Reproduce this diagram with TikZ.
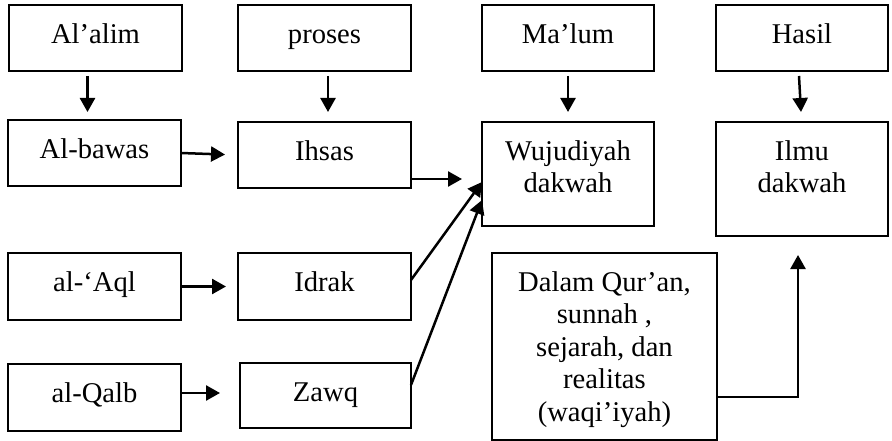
\documentclass[tikz,border=0pt]{standalone}
\usepackage{fontspec}
\setmainfont{Liberation Serif}
\usetikzlibrary{arrows.meta,calc}

% Text inside a box: top aligned, lines centred
\newcommand{\boxtxt}[3]{\parbox[c][#2][t]{#1}{\centering\vspace*{15.4pt}\strut #3}}

\begin{document}
\begin{tikzpicture}[x=1pt,y=-1pt,
  textbox/.style={draw=black, line width=1.8pt, fill=white, inner sep=0pt, outer sep=0pt,
    font=\fontsize{28.6}{32.5}\selectfont},
  arr/.style={draw=black, line width=2.5pt, -{Triangle[length=14pt,width=15pt]}}
]
\useasboundingbox (0,0) rectangle (892,441);

% top row: labels of the columns
\node[textbox] (alalim) at (95.5,38)  {\boxtxt{173pt}{66pt}{Al’alim}};
\node[textbox] (proses) at (324.5,38) {\boxtxt{173pt}{66pt}{proses}};
\node[textbox] (malum)  at (568,38)   {\boxtxt{172pt}{66pt}{Ma’lum}};
\node[textbox] (hasil)  at (802,38)   {\boxtxt{172pt}{66pt}{Hasil}};

% second row
\node[textbox] (albawas) at (94.5,153)  {\boxtxt{173pt}{66pt}{Al-bawas}};
\node[textbox] (ihsas)   at (324.5,155) {\boxtxt{173pt}{66pt}{Ihsas}};
\node[textbox] (wuj)     at (568,174)   {\boxtxt{172pt}{104pt}{Wujudiyah\\dakwah}};
\node[textbox] (ilmu)    at (802,179)   {\boxtxt{172pt}{114pt}{Ilmu\\dakwah}};

% lower rows
\node[textbox] (aql)   at (94.5,286.5)  {\boxtxt{173pt}{67pt}{al-‘Aql}};
\node[textbox] (idrak) at (324.5,286.5) {\boxtxt{173pt}{67pt}{Idrak}};
\node[textbox] (qalb)  at (94.5,397.5)  {\boxtxt{173pt}{67pt}{al-Qalb}};
\node[textbox] (zawq)  at (325.5,395.5) {\boxtxt{171pt}{65pt}{Zawq}};
\node[textbox] (dalam) at (604.5,346.5)
  {\boxtxt{225pt}{187pt}{Dalam Qur’an,\\sunnah ,\\sejarah, dan\\realitas\\(waqi’iyah)}};

% vertical arrows from the column labels
\draw[arr] ($(alalim.south)+(-8,5)$) -- ($(alalim.south |- albawas.north)+(-8,-8)$);
\draw[arr] ($(proses.south)+(3.5,5)$) -- ($(proses.south |- ihsas.north)+(3.5,-10)$);
\draw[arr] ($(malum.south)+(0,5)$) -- ($(malum.south |- wuj.north)+(0,-10)$);
\draw[arr] ($(hasil.south)+(-3,5)$) -- ($(hasil.south |- ilmu.north)+(-1,-10)$);

% horizontal arrows
\draw[arr, shorten >=13pt] (albawas.east) -- (ihsas.west);
\draw[arr, shorten >=12pt] (aql.east) -- (idrak.west);
\draw[arr] ($(qalb.east)+(0,-4.5)$) -- ($(zawq.west)+(-20,-2.5)$);

% arrows into Wujudiyah dakwah
\draw[arr] ($(ihsas.south east)+(0,-9)$) -- ($(ihsas.south east -| wuj.west)+(-20,-9)$);
\draw[arr] ($(idrak.east)+(0,-6.5)$) -- ($(wuj.west)+(0,8)$);
\draw[arr] ($(zawq.east)+(0,-10.5)$) -- ($(wuj.west)+(0,26)$);

% sources up to Ilmu dakwah
\draw[arr] ($(dalam.east)+(0,50.5)$) -| ($(ilmu.south)+(-4,19)$);
\end{tikzpicture}
\end{document}
